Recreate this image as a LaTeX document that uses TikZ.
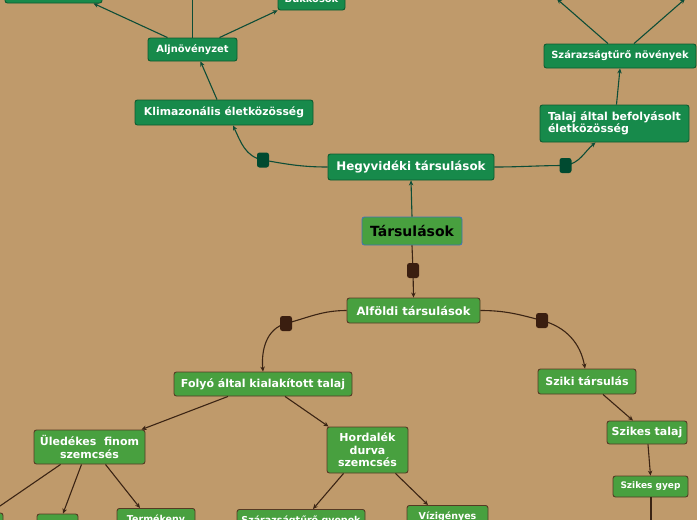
\documentclass[tikz,border=0pt]{standalone}
\usepackage{fontspec}
\setmainfont{DejaVu Sans}
\usetikzlibrary{arrows.meta,calc}
\definecolor{bg}{HTML}{BF9A6B}
\definecolor{dg}{HTML}{178A4B}
\definecolor{dgb}{HTML}{0E5A30}
\definecolor{lg}{HTML}{48A03F}
\definecolor{lgb}{HTML}{553A24}
\definecolor{gline}{HTML}{0D4D37}
\definecolor{bline}{HTML}{3B2414}
\definecolor{ghandle}{HTML}{004A30}
\definecolor{bhandle}{HTML}{3A1E10}
\definecolor{rootb}{HTML}{3F74B5}
\tikzset{
  box/.style={rounded corners=2.5pt, inner sep=0pt, text=white, line width=0.9pt, align=center},
  gnode/.style={box, draw=dgb, fill=dg},
  lnode/.style={box, draw=lgb, fill=lg},
  fs/.style={font=\fontsize{#1}{12.5}\bfseries\selectfont},
  gedge/.style={draw=gline, line width=1.1pt, -{Stealth[length=5pt,width=4.5pt]}},
  bedge/.style={draw=bline, line width=1.1pt, -{Stealth[length=5pt,width=4.5pt]}},
  ghnd/.style={fill=ghandle, rounded corners=2.5pt, minimum width=12pt, minimum height=15pt, inner sep=0pt},
  bhnd/.style={fill=bhandle, rounded corners=2.5pt, minimum width=12pt, minimum height=15pt, inner sep=0pt},
}
\begin{document}
\begin{tikzpicture}[x=1pt,y=-1pt]
\useasboundingbox (0,0) rectangle (697,520);
\clip (0,0) rectangle (697,520);
\fill[bg] (-5,-5) rectangle (702,525);

% top green nodes
\node[gnode, minimum width=97pt, minimum height=23pt] (tl) at (53.5,-8.5) {};
\node[gnode, fs=9.9, minimum width=89pt, minimum height=23pt] (alj) at (192.5,49.5) {Aljnövényzet};
\node[gnode, fs=9.9, minimum width=67pt, minimum height=23pt] (buk) at (311.5,-1.5) {Bükkösök};
\node[gnode, fs=10.8, minimum width=178pt, minimum height=25pt] (klim) at (224,112.5) {Klimazonális életközösség};
\node[gnode, fs=11.9, minimum width=166pt, minimum height=26pt] (heg) at (411,167) {Hegyvidéki társulások};
\node[gnode, fs=11, minimum width=149pt, minimum height=37pt, align=left] (tal) at (614.5,123.5) {Talaj által befolyásolt\\életközösség};
\node[gnode, fs=9.9, minimum width=152pt, minimum height=24pt] (sza) at (620,56) {Szárazságtűrő növények};

% root
\node[box, draw=rootb, fill=lg, text=black, fs=14, minimum width=100pt, minimum height=28pt] (root) at (412,231) {Társulások};

% bottom light green nodes
\node[lnode, fs=11.5, minimum width=133pt, minimum height=25pt] (alf) at (413.5,310.5) {Alföldi társulások};
\node[lnode, fs=11, minimum width=178pt, minimum height=24pt] (fol) at (263,384) {Folyó által kialakított talaj};
\node[lnode, fs=11, minimum width=98pt, minimum height=25pt] (szi) at (587,381.5) {Sziki társulás};
\node[lnode, fs=11, minimum width=80pt, minimum height=23pt] (szt) at (647,432.5) {Szikes talaj};
\node[lnode, fs=9, minimum width=75pt, minimum height=21pt] (szg) at (650.5,486.5) {Szikes gyep};
\node[lnode, fs=11, minimum width=111pt, minimum height=34pt] (ule) at (89.5,447) {Üledékes\ \ finom\\szemcsés};
\node[lnode, fs=11, minimum width=81pt, minimum height=46pt] (hor) at (367.5,450) {Hordalék\\durva\\szemcsés};
\node[lnode, minimum width=63pt, minimum height=30pt] (b1) at (-28.5,528) {};
\node[lnode, minimum width=41pt, minimum height=30pt] (b2) at (57.5,529) {};
\node[lnode, fs=9.5, minimum width=78pt, anchor=north, inner ysep=6pt, text depth=20pt] (b3) at (156,508) {Termékeny};
\node[lnode, fs=9.5, minimum width=128pt, anchor=north, inner ysep=6pt, text depth=20pt] (b4) at (301,509) {Szárazságtűrő gyepek};
\node[lnode, fs=9.5, minimum width=81pt, anchor=north, inner ysep=6pt, text depth=20pt] (b5) at (447.5,505) {Vízigényes};

% free ends and handle positions
\coordinate (altop) at (192.8,-30);
\coordinate (szul) at (557,-1);
\coordinate (szur) at (685,-1);
\coordinate (szgdn) at (651,535);
\coordinate (c1) at (263,160);
\coordinate (c2) at (565.5,165.5);
\coordinate (c3) at (413,270.5);
\coordinate (c4) at (286,323.5);
\coordinate (c5) at (542,320.5);

% green connectors
\draw[gedge] ($(alj.north)+(-25,0)$) -- ($(tl.south)+(40,0)$);
\draw[gedge] ($(alj.north)+(0.3,0)$) -- (altop);
\draw[gedge] ($(alj.north)+(27,0)$) -- (buk.south west);
\draw[gedge] ($(klim.north)+(-7,0)$) -- ($(alj.south)+(8,0)$);
\draw[gedge] (heg.west) to[out=180,in=-10] (c1) to[out=170,in=-65] ($(klim.south)+(9,0)$);
\draw[gedge] (heg.east) to[out=0,in=180] (c2) to[out=10,in=-140] ($(tal.south west)+(56,0)$);
\draw[gedge] ($(tal.north)+(2,0)$) -- (sza.south);
\draw[gedge] ($(sza.north)+(-12,0)$) -- (szul);
\draw[gedge] ($(sza.north)+(14,0)$) -- (szur);
\draw[gedge] (root.north) -- (heg.south);

% brown connectors
\draw[bedge] (root.south) -- (c3) -- (alf.north);
\draw[bedge] (alf.west) to[out=180,in=15] (c4) to[out=195,in=95] (fol.north);
\draw[bedge] (alf.east) to[out=0,in=165] (c5) to[out=-15,in=100] ($(szi.north)+(-2,0)$);
\draw[bedge] ($(fol.south)+(-35,0)$) -- ($(ule.north east)+(-4,0)$);
\draw[bedge] ($(fol.south)+(22,0)$) -- ($(hor.north west)+(2,0)$);
\draw[bedge] ($(ule.south west)+(27,0)$) -- ($(b1.north east)+(-13,0)$);
\draw[bedge] ($(ule.south)+(-8,0)$) -- ($(b2.north)+(5.5,0)$);
\draw[bedge] ($(ule.south)+(16,0)$) -- ($(b3.north)+(-16,0)$);
\draw[bedge] ($(hor.south)+(-24,0)$) -- ($(b4.north)+(12,0)$);
\draw[bedge] ($(hor.south)+(28,0)$) -- ($(b5.north)+(-19.5,0)$);
\draw[bedge] ($(szi.south)+(16,0)$) -- ($(szt.north)+(-14,0)$);
\draw[bedge] ($(szt.south)+(1,0)$) -- (szg.north);
\draw[bedge] ($(szg.south)+(0.5,0)$) -- (szgdn);

% handles on top
\node[ghnd] (h1) at (c1) {};
\node[ghnd] (h2) at (c2) {};
\node[bhnd] (h3) at (c3) {};
\node[bhnd] (h4) at (c4) {};
\node[bhnd] (h5) at (c5) {};
\end{tikzpicture}
\end{document}
